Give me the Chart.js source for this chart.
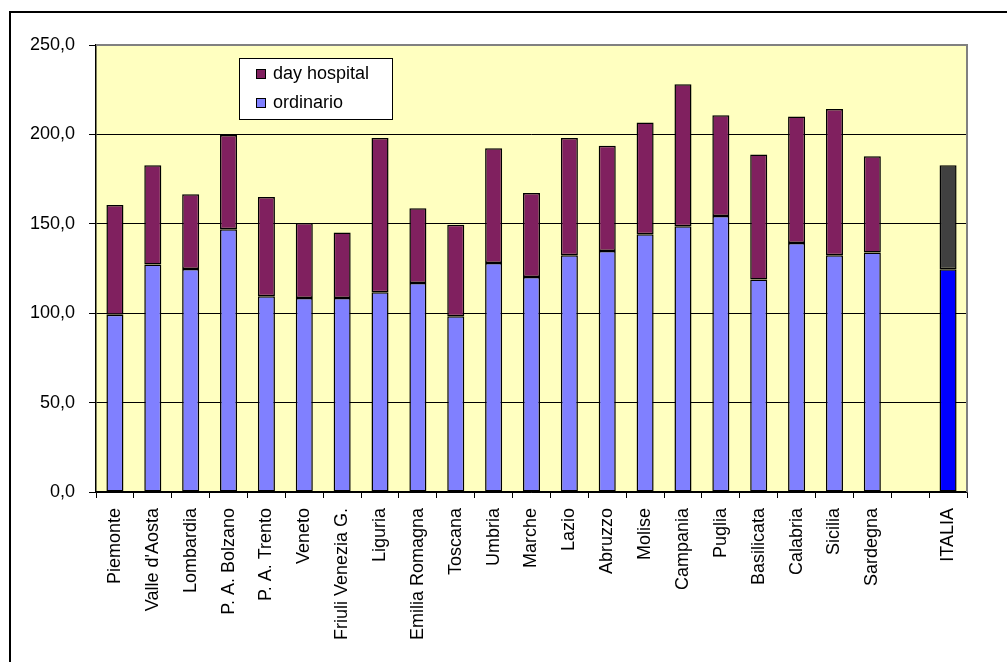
<!DOCTYPE html>
<html lang="it">
<head>
    <meta charset="UTF-8">
    <title>Ricoveri per regione</title>
    <script src="https://cdn.jsdelivr.net/npm/chart.js"></script>
    <style>
        html, body {
            margin: 0;
            padding: 0;
            background: #ffffff;
        }
        .chart-box {
            width: 1007px;
            height: 662px;
        }
    </style>
</head>
<body>
    <div class="chart-box">
        <canvas id="ricoveriChart"></canvas>
    </div>

    <script>
        // categorie (una colonna vuota prima di ITALIA)
        const regioni = ['Piemonte', "Valle d'Aosta", 'Lombardia', 'P. A. Bolzano', 'P. A. Trento', 'Veneto',
            'Friuli Venezia G.', 'Liguria', 'Emilia Romagna', 'Toscana', 'Umbria', 'Marche', 'Lazio',
            'Abruzzo', 'Molise', 'Campania', 'Puglia', 'Basilicata', 'Calabria', 'Sicilia', 'Sardegna',
            '', 'ITALIA'];
        const ordinario = [99.2, 127.2, 124.7, 146.9, 109.5, 108.5, 108.5, 111.7, 116.9, 98.3, 128.1, 120.3,
            132.4, 134.8, 144.1, 148.6, 154.4, 118.8, 139.3, 132.4, 134.0, null, 124.6];
        const dayHospital = [61.3, 55.5, 41.8, 52.8, 55.5, 42.0, 36.7, 86.3, 41.8, 51.2, 64.1, 46.9,
            65.6, 58.9, 62.5, 79.4, 56.3, 69.9, 70.7, 81.8, 53.8, null, 58.1];
        const yTicks = [0, 50, 100, 150, 200, 250];

        const FONT = 'Arial, "Liberation Sans", sans-serif';
        const colOrd = '#8080FF', colDh = '#80205F';
        const colOrdIt = '#0000FF', colDhIt = '#404040';

        const colori = (base, it) => regioni.map(r => r === 'ITALIA' ? it : base);

        // cornice esterna e sfondo giallo dell'area grafico
        const sfondo = {
            id: 'sfondo',
            beforeDraw(chart) {
                const c = chart.ctx, a = chart.chartArea;
                c.save();
                c.fillStyle = '#ffffff';
                c.fillRect(0, 0, chart.width, chart.height);
                c.strokeStyle = '#000000';
                c.lineWidth = 2;
                c.beginPath();
                c.moveTo(10, chart.height);
                c.lineTo(10, 12);
                c.lineTo(chart.width, 12);
                c.stroke();
                c.fillStyle = '#FFFFC0';
                c.fillRect(a.left, a.top, a.right - a.left, a.bottom - a.top);
                c.restore();
            },
            afterDatasetsDraw(chart) {
                const c = chart.ctx, a = chart.chartArea;
                c.save();
                c.strokeStyle = '#808080';
                c.lineWidth = 2;
                c.beginPath();
                c.moveTo(a.left, a.top);
                c.lineTo(a.right, a.top);
                c.lineTo(a.right, a.bottom);
                c.stroke();
                c.restore();
            }
        };

        // legenda dentro l'area grafico
        const legenda = {
            id: 'legenda',
            afterDraw(chart) {
                const c = chart.ctx;
                const voci = [chart.data.datasets[1], chart.data.datasets[0]];
                c.save();
                c.fillStyle = '#ffffff';
                c.fillRect(239, 58, 153, 61);
                c.strokeStyle = '#000000';
                c.lineWidth = 1;
                c.strokeRect(239.5, 58.5, 153, 61);
                c.font = '18px ' + FONT;
                c.textBaseline = 'middle';
                voci.forEach((ds, i) => {
                    const y = 74 + i * 29;
                    c.fillStyle = Array.isArray(ds.backgroundColor) ? ds.backgroundColor[0] : ds.backgroundColor;
                    c.fillRect(256.5, y - 4.5, 9, 9);
                    c.strokeStyle = '#000000';
                    c.strokeRect(256.5, y - 4.5, 9, 9);
                    c.fillStyle = '#000000';
                    c.fillText(ds.label, 273, y);
                });
                c.restore();
            }
        };

        const ctx = document.getElementById('ricoveriChart').getContext('2d');
        new Chart(ctx, {
            type: 'bar',
            data: {
                labels: regioni,
                datasets: [{
                    label: 'ordinario',
                    data: ordinario,
                    backgroundColor: colori(colOrd, colOrdIt),
                    borderColor: '#000000',
                    borderWidth: 1.5,
                    borderSkipped: false
                }, {
                    label: 'day hospital',
                    data: dayHospital,
                    backgroundColor: colori(colDh, colDhIt),
                    borderColor: '#000000',
                    borderWidth: 1.5,
                    borderSkipped: false
                }]
            },
            options: {
                responsive: true,
                maintainAspectRatio: false,
                animation: false,
                layout: { padding: { top: 45, right: 40, left: 0, bottom: 0 } },
                datasets: { bar: { categoryPercentage: 1, barPercentage: 0.45 } },
                plugins: {
                    legend: { display: false },
                    tooltip: { enabled: false }
                },
                scales: {
                    x: {
                        stacked: true,
                        grid: {
                            offset: true,
                            drawOnChartArea: false,
                            drawTicks: true,
                            tickLength: 6,
                            color: '#000000'
                        },
                        border: { color: '#000000', width: 1.5 },
                        ticks: {
                            autoSkip: false,
                            minRotation: 90,
                            maxRotation: 90,
                            padding: 10,
                            color: '#000000',
                            font: { family: FONT, size: 18 }
                        },
                        afterFit(scale) { scale.height = 170; }
                    },
                    y: {
                        stacked: true,
                        min: 0,
                        max: 250,
                        afterBuildTicks(scale) { scale.ticks = yTicks.map(v => ({ value: v })); },
                        grid: {
                            color: ctx => ctx.tick && ctx.tick.value === 250 ? 'rgba(0,0,0,0)' : '#000000',
                            lineWidth: 1,
                            tickLength: 7,
                            tickColor: '#000000'
                        },
                        border: { color: '#000000', width: 1.5 },
                        ticks: {
                            padding: 14,
                            color: '#000000',
                            font: { family: FONT, size: 18 },
                            callback: v => v.toFixed(1).replace('.', ',')
                        },
                        afterFit(scale) { scale.width = 96; }
                    }
                }
            },
            plugins: [sfondo, legenda]
        });
    </script>
</body>
</html>
